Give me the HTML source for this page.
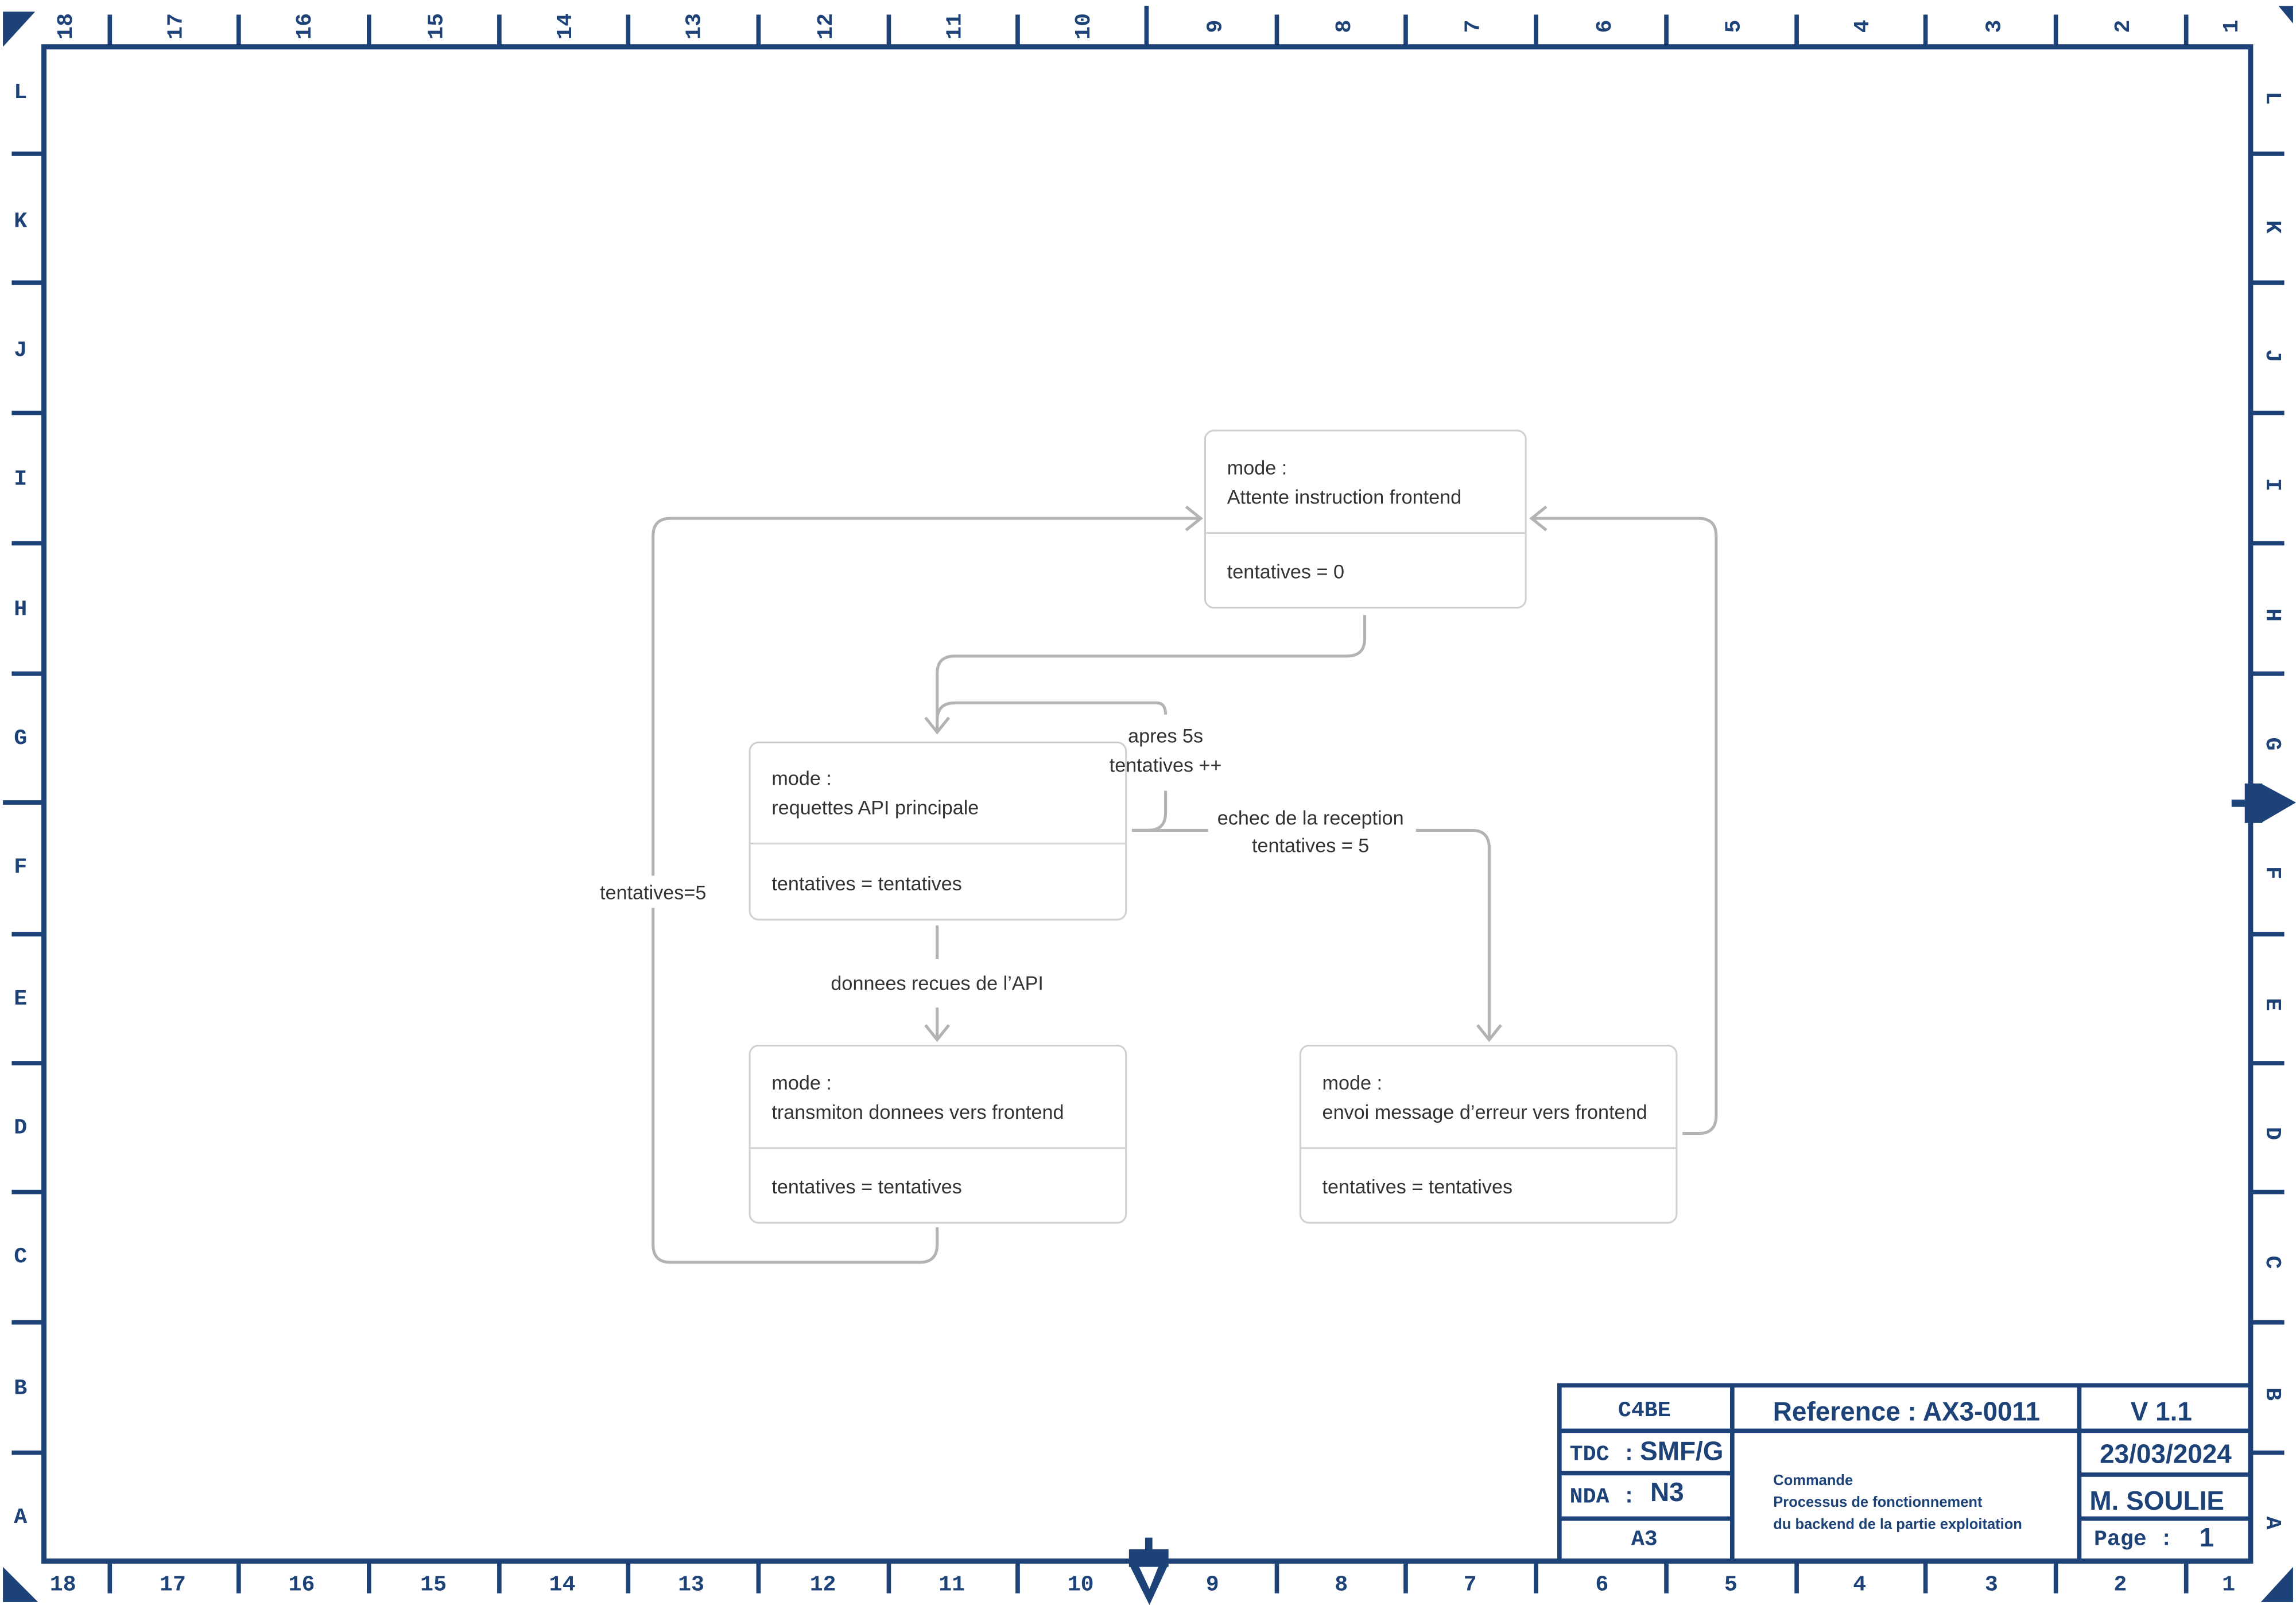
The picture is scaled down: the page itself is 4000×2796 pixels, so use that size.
<!DOCTYPE html>
<html><head><meta charset="utf-8"><style>
html,body{margin:0;padding:0;background:#fff;width:4000px;height:2796px;overflow:hidden}
svg{display:block}
.r{font-family:"Liberation Mono",monospace;font-weight:bold;font-size:15px;fill:#1c4277}
.d{font-family:"Liberation Sans",sans-serif;font-size:13.4px;fill:#333}
.t{font-family:"Liberation Sans",sans-serif;font-weight:bold;fill:#1c4277}
</style></head><body>
<svg width="4000" height="2796" viewBox="0 0 1568 1096" preserveAspectRatio="none" xmlns="http://www.w3.org/2000/svg">
<rect width="1568" height="1096" fill="#fff"/>
<g fill="#1c4277">
<polygon points="2,8 24,8 2,32"/>
<polygon points="2,1070 2,1094 26,1094"/>
<polygon points="1566,1070 1566,1094 1544,1094"/>
<polygon points="1566,4 1566,16 1556,4"/>
</g>
<g stroke="#1c4277" fill="none">
<rect x="30" y="32" width="1507" height="1034" stroke-width="3.5"/>
<g stroke-width="3">
<path d="M75 10V32M163 10V32M252 10V32M341 10V32M429 10V32M518 10V32M607 10V32M695 10V32M783 4V32M872 10V32M960 10V32M1049 10V32M1138 10V32M1227 10V32M1315 10V32M1404 10V32M1493 10V32"/>
<path d="M75 1066V1088M163 1066V1088M252 1066V1088M341 1066V1088M429 1066V1088M518 1066V1088M607 1066V1088M695 1066V1088M872 1066V1088M960 1066V1088M1049 1066V1088M1138 1066V1088M1227 1066V1088M1315 1066V1088M1404 1066V1088M1493 1066V1088"/>
<path d="M8 105H30M8 193H30M8 282H30M8 371H30M8 460H30M2 548H30M8 638H30M8 726H30M8 814H30M8 903H30M8 992H30"/>
<path d="M1537 105H1560M1537 193H1560M1537 282H1560M1537 371H1560M1537 460H1560M1537 638H1560M1537 726H1560M1537 814H1560M1537 903H1560M1537 992H1560"/>
</g>
</g>
<g fill="#1c4277">
<rect x="771" y="1058" width="27" height="12"/><rect x="782" y="1050" width="5" height="10"/>
<polygon points="771,1068 798,1068 785,1096"/>
<polygon points="778,1070 791,1070 785,1085" fill="#fff"/>
<rect x="1533" y="535" width="12" height="27"/><rect x="1524" y="546" width="10" height="5"/>
<polygon points="1544,535 1544,562 1568,548"/>
</g>
<g class="r">
<text transform="translate(49,18) rotate(-90)" text-anchor="middle">18</text>
<text transform="translate(124,18) rotate(-90)" text-anchor="middle">17</text>
<text transform="translate(212,18) rotate(-90)" text-anchor="middle">16</text>
<text transform="translate(302,18) rotate(-90)" text-anchor="middle">15</text>
<text transform="translate(390,18) rotate(-90)" text-anchor="middle">14</text>
<text transform="translate(478,18) rotate(-90)" text-anchor="middle">13</text>
<text transform="translate(568,18) rotate(-90)" text-anchor="middle">12</text>
<text transform="translate(656,18) rotate(-90)" text-anchor="middle">11</text>
<text transform="translate(744,18) rotate(-90)" text-anchor="middle">10</text>
<text transform="translate(834,18) rotate(-90)" text-anchor="middle">9</text>
<text transform="translate(922,18) rotate(-90)" text-anchor="middle">8</text>
<text transform="translate(1010,18) rotate(-90)" text-anchor="middle">7</text>
<text transform="translate(1100,18) rotate(-90)" text-anchor="middle">6</text>
<text transform="translate(1188,18) rotate(-90)" text-anchor="middle">5</text>
<text transform="translate(1276,18) rotate(-90)" text-anchor="middle">4</text>
<text transform="translate(1366,18) rotate(-90)" text-anchor="middle">3</text>
<text transform="translate(1454,18) rotate(-90)" text-anchor="middle">2</text>
<text transform="translate(1528,18) rotate(-90)" text-anchor="middle">1</text>
</g>
<g class="r" text-anchor="middle">
<text x="43" y="1086">18</text><text x="118" y="1086">17</text><text x="206" y="1086">16</text><text x="296" y="1086">15</text><text x="384" y="1086">14</text><text x="472" y="1086">13</text><text x="562" y="1086">12</text><text x="650" y="1086">11</text><text x="738" y="1086">10</text><text x="828" y="1086">9</text><text x="916" y="1086">8</text><text x="1004" y="1086">7</text><text x="1094" y="1086">6</text><text x="1182" y="1086">5</text><text x="1270" y="1086">4</text><text x="1360" y="1086">3</text><text x="1448" y="1086">2</text><text x="1522" y="1086">1</text>
<text x="14" y="67">L</text><text x="14" y="155">K</text><text x="14" y="243">J</text><text x="14" y="331">I</text><text x="14" y="420">H</text><text x="14" y="508">G</text><text x="14" y="596">F</text><text x="14" y="686">E</text><text x="14" y="774">D</text><text x="14" y="862">C</text><text x="14" y="952">B</text><text x="14" y="1040">A</text>
</g>
<g class="r" text-anchor="middle">
<text transform="translate(1548,67) rotate(90)">L</text><text transform="translate(1548,155) rotate(90)">K</text><text transform="translate(1548,243) rotate(90)">J</text><text transform="translate(1548,331) rotate(90)">I</text><text transform="translate(1548,420) rotate(90)">H</text><text transform="translate(1548,508) rotate(90)">G</text><text transform="translate(1548,596) rotate(90)">F</text><text transform="translate(1548,686) rotate(90)">E</text><text transform="translate(1548,774) rotate(90)">D</text><text transform="translate(1548,862) rotate(90)">C</text><text transform="translate(1548,952) rotate(90)">B</text><text transform="translate(1548,1040) rotate(90)">A</text>
</g>
<g stroke="#1c4277" fill="none" stroke-width="3">
<path d="M1065 1066V946H1537"/>
<path d="M1183 946V1066M1420 946V1066"/>
<path d="M1065 977H1537M1065 1006H1183M1065 1037H1183M1420 1007H1537M1420 1037H1537"/>
</g>
<g class="r" font-size="13">
<text x="1123" y="967" text-anchor="middle">C4BE</text>
<text x="1072" y="997">TDC :</text>
<text x="1072" y="1026">NDA :</text>
<text x="1123" y="1055" text-anchor="middle">A3</text>
<text x="1430" y="1055">Page :</text>
</g>
<g class="t">
<text x="1120" y="997" font-size="18">SMF/G</text>
<text x="1127" y="1025" font-size="18">N3</text>
<text x="1302" y="970" font-size="18" text-anchor="middle">Reference : AX3-0011</text>
<text x="1476" y="970" font-size="18" text-anchor="middle">V 1.1</text>
<text x="1479" y="999" font-size="18" text-anchor="middle">23/03/2024</text>
<text x="1473" y="1031" font-size="18" text-anchor="middle">M. SOULIE</text>
<text x="1502" y="1056" font-size="18">1</text>
<text x="1211" y="1014" font-size="10">Commande</text>
<text x="1211" y="1029" font-size="10">Processus de fonctionnement</text>
<text x="1211" y="1044" font-size="10">du backend de la partie exploitation</text>
</g>
<g stroke="#b3b3b3" stroke-width="2" fill="none">
<path d="M932 420V436Q932 448 920 448H652Q640 448 640 460V500"/>
<path d="M632 490L640 500L648 490"/>
<path d="M640 500V492Q640 480 652 480H790Q796 480 796 488"/>
<path d="M796 540V555Q796 567 784 567H773"/>
<path d="M773 567H825M967 567H1005Q1017 567 1017 579V709"/>
<path d="M1009 700L1017 710L1025 700"/>
<path d="M640 632V655M640 688V710"/>
<path d="M632 700L640 710L648 700"/>
<path d="M640 838V850Q640 862 628 862H458Q446 862 446 850V620M446 598V366Q446 354 458 354H820"/>
<path d="M810 346L820 354L810 362"/>
<path d="M1149 774H1160Q1172 774 1172 762V366Q1172 354 1160 354H1046"/>
<path d="M1056 346L1046 354L1056 362"/>
</g>
<g fill="#fff" stroke="#d0d0d0" stroke-width="1.2">
<rect x="823" y="294" width="219" height="121" rx="6"/><path d="M823 364H1042"/>
<rect x="512" y="507" width="257" height="121" rx="6"/><path d="M512 576H769"/>
<rect x="512" y="714" width="257" height="121" rx="6"/><path d="M512 784H769"/>
<rect x="888" y="714" width="257" height="121" rx="6"/><path d="M888 784H1145"/>
</g>
<g class="d">
<text x="838" y="324">mode :</text><text x="838" y="344">Attente instruction frontend</text><text x="838" y="395">tentatives = 0</text>
<text x="527" y="536">mode :</text><text x="527" y="556">requettes API principale</text><text x="527" y="608">tentatives = tentatives</text>
<text x="527" y="744">mode :</text><text x="527" y="764">transmiton donnees vers frontend</text><text x="527" y="815">tentatives = tentatives</text>
<text x="903" y="744">mode :</text><text x="903" y="764">envoi message d’erreur vers frontend</text><text x="903" y="815">tentatives = tentatives</text>
<g text-anchor="middle">
<text x="796" y="507">apres 5s</text><text x="796" y="527">tentatives ++</text>
<text x="895" y="563">echec de la reception</text><text x="895" y="582">tentatives = 5</text>
<text x="640" y="676">donnees recues de l’API</text>
<text x="446" y="614">tentatives=5</text>
</g>
</g>
</svg>
</body></html>
